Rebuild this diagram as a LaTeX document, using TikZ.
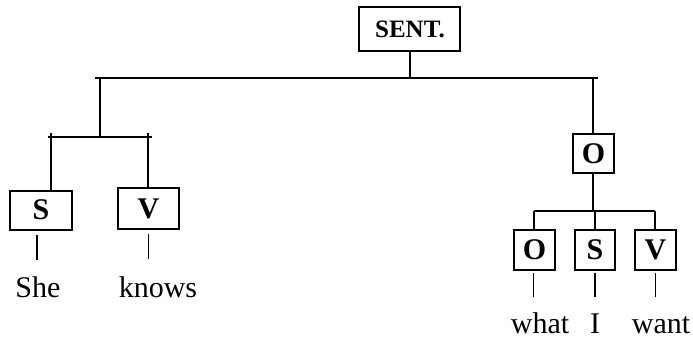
\documentclass[tikz,border=0pt]{standalone}
\usepackage{fontspec}
\setmainfont{Liberation Serif}
\usetikzlibrary{positioning}
\begin{document}
\begin{tikzpicture}
            [x=0.5pt,y=-0.5pt,
             a/.style={draw,line width=1pt,inner sep=0pt,font=\fontsize{15}{18}\selectfont\bfseries},
             w/.style={anchor=base,font=\fontsize{15}{18}\selectfont},
             l/.style={line width=1pt},
             t/.style={line width=0.7pt}]
            \useasboundingbox (0,0) rectangle (693,339);
            \node[a,minimum width=50.5pt,minimum height=22pt,font=\fontsize{12.5}{15}\selectfont\bfseries](sent) at (410,29){SENT.};
            \node[a,minimum width=31pt,minimum height=19.5pt](s) at (41,210){S};
            \node[a,minimum width=30.5pt,minimum height=20.5pt](v) at (148.5,208.5){V};
            \node[a,minimum width=20.5pt,minimum height=19.5pt](o) at (593.5,153.5){O};
            \node[a,minimum width=20.5pt,minimum height=20pt](oo) at (534.5,250){O};
            \node[a,minimum width=20pt,minimum height=20pt](os) at (595,250){S};
            \node[a,minimum width=20.5pt,minimum height=20pt](ov) at (655.5,250){V};
            \node[w](she) at (38,297){She};
            \node[w](knows) at (158,297){knows};
            \node[w](what) at (540,333){what};
            \node[w](i) at (595,333){I};
            \node[w](want) at (661,333){want};
            \coordinate (b1) at (95,78);
            \coordinate (b1e) at (598,78);
            \coordinate (j1) at (100,78);
            \coordinate (b2) at (48,137);
            \coordinate (b2e) at (152,137);
            \coordinate (d1) at (51,133);
            \coordinate (d2) at (148,133);
            \coordinate (b3) at (534,211);
            \coordinate (b3e) at (655,211);
            \draw[l] (b1) -- (b1e)
                     (sent) -- (sent |- b1)
                     (j1) -- (j1 |- b2)
                     (o) -- (o |- b1)
                     (b2) -- (b2e)
                     (d1) -- (d1 |- s.north)
                     (d2) -- (d2 |- v.north)
                     (b3) -- (b3e)
                     (o) -- (o |- b3)
                     (oo) -- (oo |- b3)
                     (os) -- (os |- b3)
                     (ov) -- (ov |- b3);
            \draw[t] (s.south) ++(-4,4) -- ++(0,25)
                     (v.south) ++(0,4) -- ++(0,25)
                     (oo.south) ++(-1,2) -- ++(0,24)
                     (os.south) ++(0,2) -- ++(0,24)
                     (ov.south) ++(0,2) -- ++(0,24);
        \end{tikzpicture}
\end{document}
